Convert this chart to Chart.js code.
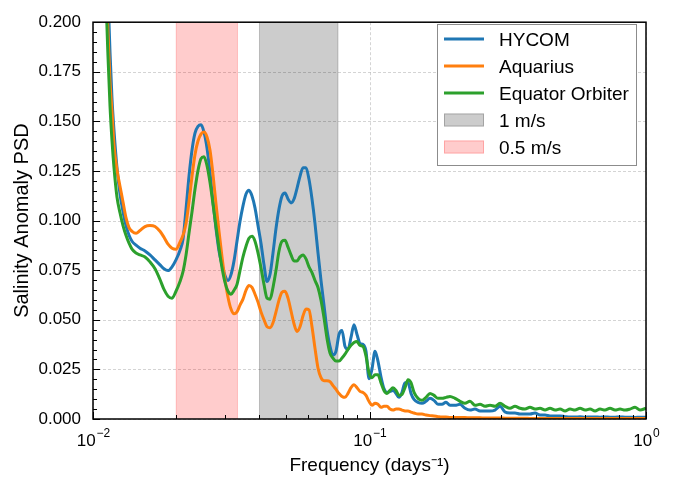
<!DOCTYPE html>
<html>
<head>
<meta charset="utf-8">
<script src="https://cdn.jsdelivr.net/npm/chart.js@4.4.1/dist/chart.umd.min.js"></script>
<style>
  body { margin: 0; background: #fff; }
  canvas { display: block; }
</style>
</head>
<body>
<canvas id="psd" width="676" height="480"></canvas>
<script>
// frequency axis (days^-1)
var freq = [
  0.01096, 0.01114, 0.01133, 0.01152, 0.01171, 0.01191, 0.01221, 0.01252, 0.01284, 0.01316,
  0.01350, 0.01384, 0.01431, 0.01479, 0.01542, 0.01607, 0.01676, 0.01747, 0.01806, 0.01868,
  0.01931, 0.01996, 0.02064, 0.02116, 0.02170, 0.02224, 0.02281, 0.02338, 0.02397, 0.02458,
  0.02520, 0.02584, 0.02649, 0.02716, 0.02785, 0.02856, 0.02928, 0.03002, 0.03078, 0.03156,
  0.03236, 0.03317, 0.03401, 0.03487, 0.03576, 0.03666, 0.03759, 0.03854, 0.03951, 0.04051,
  0.04154, 0.04259, 0.04367, 0.04477, 0.04590, 0.04707, 0.04826, 0.04948, 0.05073, 0.05201,
  0.05333, 0.05468, 0.05606, 0.05748, 0.05893, 0.06042, 0.06195, 0.06352, 0.06512, 0.06677,
  0.06846, 0.07019, 0.07197, 0.07379, 0.07566, 0.07757, 0.07953, 0.08154, 0.08361, 0.08572,
  0.08789, 0.09011, 0.09239, 0.09473, 0.09713, 0.09958, 0.1021, 0.1047, 0.1073, 0.1100,
  0.1128, 0.1157, 0.1186, 0.1216, 0.1247, 0.1278, 0.1311, 0.1344, 0.1378, 0.1413,
  0.1449, 0.1498, 0.1548, 0.1601, 0.1655, 0.1711, 0.1769, 0.1829, 0.1891, 0.1955,
  0.2038, 0.2125, 0.2215, 0.2309, 0.2407, 0.2510, 0.2617, 0.2728, 0.2844, 0.2965,
  0.3091, 0.3222, 0.3359, 0.3502, 0.3651, 0.3806, 0.3968, 0.4137, 0.4313, 0.4496,
  0.4688, 0.4887, 0.5095, 0.5311, 0.5537, 0.5773, 0.6018, 0.6274, 0.6541, 0.6819,
  0.7109, 0.7411, 0.7727, 0.8055, 0.8398, 0.8755, 0.9127, 0.9515, 1.0
];

var hycom = [
  0.2817, 0.2446, 0.2149, 0.1851, 0.1619, 0.1455, 0.1267, 0.1134, 0.1045, 0.0975,
  0.0926, 0.0896, 0.0876, 0.0861, 0.0847, 0.0827, 0.0802, 0.0777, 0.0757, 0.0748,
  0.0767, 0.0802, 0.0851, 0.0906, 0.1059, 0.1223, 0.1356, 0.1441, 0.1475, 0.1483,
  0.1446, 0.1366, 0.1243, 0.1094, 0.0960, 0.0847, 0.0777, 0.0723, 0.0698, 0.0728,
  0.0797, 0.0896, 0.0995, 0.1074, 0.1134, 0.1153, 0.1124, 0.1064, 0.0975, 0.0886,
  0.0777, 0.0693, 0.0728, 0.0837, 0.0960, 0.1059, 0.1124, 0.1139, 0.1109, 0.1089,
  0.1109, 0.1163, 0.1223, 0.1267, 0.1267, 0.1208, 0.1109, 0.0985, 0.0837, 0.0698,
  0.0574, 0.0450, 0.0366, 0.0322, 0.0342, 0.0426, 0.0446, 0.0366, 0.0351, 0.0411,
  0.0475, 0.0426, 0.0381, 0.0376, 0.0342, 0.0203, 0.0252, 0.0342, 0.0292, 0.0213,
  0.0153, 0.0134, 0.0139, 0.0144, 0.0129, 0.0109, 0.0134, 0.0183, 0.0183, 0.0129,
  0.0099, 0.0084, 0.0079, 0.0089, 0.0104, 0.0094, 0.0074, 0.0074, 0.0084, 0.0069,
  0.0069, 0.0074, 0.0054, 0.0045, 0.0050, 0.0040, 0.0040, 0.0040, 0.0045, 0.0064,
  0.0035, 0.0030, 0.0030, 0.0025, 0.0025, 0.0025, 0.0030, 0.0020, 0.0020, 0.0015,
  0.0015, 0.0015, 0.0012, 0.0010, 0.0010, 0.0011, 0.0009, 0.0010, 0.0010, 0.0009,
  0.0010, 0.0009, 0.0009, 0.0010, 0.0009, 0.0009, 0.0008, 0.0009, 0.0009
];

var aquarius = [
  0.2668, 0.2272, 0.1950, 0.1703, 0.1554, 0.1381, 0.1257, 0.1173, 0.1094, 0.1015,
  0.0965, 0.0946, 0.0936, 0.0950, 0.0970, 0.0975, 0.0970, 0.0946, 0.0916, 0.0881,
  0.0861, 0.0856, 0.0891, 0.0926, 0.0985, 0.1094, 0.1223, 0.1332, 0.1401, 0.1436,
  0.1446, 0.1421, 0.1356, 0.1233, 0.1084, 0.0946, 0.0817, 0.0703, 0.0614, 0.0554,
  0.0530, 0.0540, 0.0574, 0.0604, 0.0649, 0.0673, 0.0663, 0.0629, 0.0589, 0.0540,
  0.0500, 0.0465, 0.0460, 0.0485, 0.0540, 0.0599, 0.0639, 0.0644, 0.0609, 0.0545,
  0.0480, 0.0441, 0.0465, 0.0520, 0.0554, 0.0550, 0.0465, 0.0356, 0.0257, 0.0208,
  0.0193, 0.0193, 0.0188, 0.0168, 0.0149, 0.0129, 0.0114, 0.0109, 0.0129, 0.0158,
  0.0173, 0.0158, 0.0139, 0.0134, 0.0119, 0.0089, 0.0069, 0.0079, 0.0074, 0.0059,
  0.0064, 0.0064, 0.0050, 0.0045, 0.0050, 0.0050, 0.0045, 0.0040, 0.0040, 0.0035,
  0.0030, 0.0025, 0.0025, 0.0020, 0.0017, 0.0015, 0.0012, 0.0010, 0.0010, 0.0008,
  0.0008, 0.0007, 0.0007, 0.0006, 0.0006, 0.0006, 0.0005, 0.0005, 0.0005, 0.0005,
  0.0004, 0.0004, 0.0004, 0.0004, 0.0004, 0.0003, 0.0003, 0.0003, 0.0003, 0.0003,
  0.0003, 0.0003, 0.0003, 0.0002, 0.0002, 0.0002, 0.0002, 0.0002, 0.0002, 0.0002,
  0.0002, 0.0002, 0.0002, 0.0002, 0.0002, 0.0002, 0.0002, 0.0002, 0.0002
];

var equator = [
  0.2520, 0.2124, 0.1827, 0.1579, 0.1406, 0.1267, 0.1119, 0.1040, 0.0975, 0.0926,
  0.0886, 0.0856, 0.0837, 0.0827, 0.0817, 0.0792, 0.0757, 0.0703, 0.0653, 0.0619,
  0.0609, 0.0644, 0.0693, 0.0743, 0.0827, 0.0936, 0.1045, 0.1158, 0.1252, 0.1312,
  0.1322, 0.1277, 0.1193, 0.1084, 0.0970, 0.0861, 0.0762, 0.0688, 0.0644, 0.0629,
  0.0649, 0.0678, 0.0748, 0.0817, 0.0871, 0.0911, 0.0921, 0.0896, 0.0837, 0.0762,
  0.0678, 0.0609, 0.0604, 0.0663, 0.0748, 0.0847, 0.0896, 0.0901, 0.0866, 0.0827,
  0.0797, 0.0797, 0.0817, 0.0827, 0.0807, 0.0767, 0.0738, 0.0698, 0.0663, 0.0599,
  0.0510, 0.0406, 0.0332, 0.0307, 0.0292, 0.0292, 0.0307, 0.0327, 0.0351, 0.0371,
  0.0386, 0.0391, 0.0371, 0.0366, 0.0317, 0.0233, 0.0208, 0.0223, 0.0223, 0.0183,
  0.0144, 0.0129, 0.0144, 0.0158, 0.0144, 0.0119, 0.0124, 0.0158, 0.0198, 0.0183,
  0.0134, 0.0104, 0.0094, 0.0109, 0.0129, 0.0119, 0.0104, 0.0104, 0.0109, 0.0114,
  0.0104, 0.0089, 0.0079, 0.0089, 0.0069, 0.0074, 0.0064, 0.0069, 0.0064, 0.0079,
  0.0064, 0.0054, 0.0064, 0.0054, 0.0050, 0.0059, 0.0050, 0.0054, 0.0045, 0.0054,
  0.0045, 0.0050, 0.0040, 0.0050, 0.0045, 0.0054, 0.0045, 0.0050, 0.0040, 0.0050,
  0.0045, 0.0054, 0.0045, 0.0050, 0.0045, 0.0050, 0.0059, 0.0045, 0.0054
];

// shaded speed bands [low, high] in days^-1
var band1ms = [0.04, 0.0769];
var band05ms = [0.02, 0.0333];
var bandLabels = ['1 m/s', '0.5 m/s'];

var xTickValues = [0.01, 0.1, 1];
var xTickExps = ['\u22122', '\u22121', '0'];

var FONT = '"Liberation Sans", Arial, Helvetica, sans-serif';

function series(vals) {
  return freq.map(function(f, i) { return {x: f, y: vals[i]}; });
}

function lineSet(label, vals, color, order) {
  return {
    label: label,
    data: series(vals),
    borderColor: color,
    backgroundColor: color,
    borderWidth: 3,
    pointRadius: 0,
    fill: false,
    cubicInterpolationMode: 'monotone',
    clip: 0,
    order: order
  };
}

var bands = [
  {range: band1ms, label: bandLabels[0], color: 'rgba(0,0,0,0.2)'},
  {range: band05ms, label: bandLabels[1], color: 'rgba(255,0,0,0.2)'}
];

// spans, dashed grid, spines, inward ticks, x labels with exponents
var axesDecor = {
  id: 'axesDecor',
  beforeDatasetsDraw: function(chart) {
    var c = chart.ctx, a = chart.chartArea;
    var xs = chart.scales.x, ys = chart.scales.y;
    c.save();
    // grid
    c.strokeStyle = 'rgba(176,176,176,0.55)';
    c.lineWidth = 1;
    c.setLineDash([3, 2]);
    for (var v = 0; v <= 0.2001; v += 0.025) {
      var py = Math.round(ys.getPixelForValue(v)) + 0.5;
      c.beginPath(); c.moveTo(a.left, py); c.lineTo(a.right, py); c.stroke();
    }
    xTickValues.forEach(function(t) {
      var px = Math.round(xs.getPixelForValue(t)) + 0.5;
      c.beginPath(); c.moveTo(px, a.top); c.lineTo(px, a.bottom); c.stroke();
    });
    c.setLineDash([]);
    // spans
    bands.forEach(function(b) {
      var x0 = xs.getPixelForValue(b.range[0]);
      var x1 = xs.getPixelForValue(b.range[1]);
      c.fillStyle = b.color;
      c.fillRect(x0, a.top, x1 - x0, a.bottom - a.top);
      c.strokeStyle = b.color;
      c.lineWidth = 1;
      c.beginPath();
      c.moveTo(x0, a.top); c.lineTo(x0, a.bottom);
      c.moveTo(x1, a.top); c.lineTo(x1, a.bottom);
      c.stroke();
    });
    c.restore();
  },
  afterDatasetsDraw: function(chart) {
    var c = chart.ctx, a = chart.chartArea;
    var xs = chart.scales.x, ys = chart.scales.y;
    c.save();
    c.strokeStyle = '#000';
    c.lineWidth = 1;
    // y ticks, major every 0.025, minor every 0.005
    for (var i = 0; i <= 40; i++) {
      var py = Math.round(ys.getPixelForValue(i * 0.005)) + 0.5;
      var len = (i % 5 === 0) ? 7 : 4;
      c.beginPath(); c.moveTo(a.left, py); c.lineTo(a.left + len, py); c.stroke();
    }
    // x ticks on the log axis
    for (var d = -2; d <= 0; d++) {
      for (var m = 1; m <= 9; m++) {
        var val = m * Math.pow(10, d);
        if (val > 1.0001) break;
        var px = Math.round(xs.getPixelForValue(val)) + 0.5;
        var l = (m === 1) ? 7 : 4;
        c.beginPath(); c.moveTo(px, a.bottom); c.lineTo(px, a.bottom - l); c.stroke();
      }
    }
    // spines
    c.lineWidth = 1.5;
    c.strokeRect(a.left, a.top, a.right - a.left, a.bottom - a.top);
    // x tick labels: 10 with superscript exponent
    c.fillStyle = '#000';
    c.textBaseline = 'alphabetic';
    c.textAlign = 'left';
    xTickValues.forEach(function(t, k) {
      var px = xs.getPixelForValue(t);
      c.font = '17px ' + FONT;
      var wBase = c.measureText('10').width;
      c.font = '12px ' + FONT;
      var wExp = c.measureText(xTickExps[k]).width;
      var x0 = px - (wBase + wExp) / 2;
      c.font = '17px ' + FONT;
      c.fillText('10', x0, 446);
      c.font = '12px ' + FONT;
      c.fillText(xTickExps[k], x0 + wBase + 1, 437);
    });
    c.restore();
  }
};

// legend box inside the axes, upper right
var legendBox = {
  id: 'legendBox',
  afterDraw: function(chart) {
    var c = chart.ctx;
    var bx = 437.5, by = 24.5, bw = 199, bh = 141;
    c.save();
    c.fillStyle = '#fff';
    c.fillRect(bx, by, bw, bh);
    c.strokeStyle = '#8c8c8c';
    c.lineWidth = 1;
    c.strokeRect(bx, by, bw, bh);
    c.font = '19px ' + FONT;
    c.textBaseline = 'alphabetic';
    c.textAlign = 'left';
    var rowY = [39, 66, 93, 120, 147];
    var lines = chart.data.datasets;
    lines.forEach(function(ds, i) {
      c.strokeStyle = ds.borderColor;
      c.lineWidth = 3;
      c.beginPath(); c.moveTo(444, rowY[i]); c.lineTo(484, rowY[i]); c.stroke();
      c.fillStyle = '#000';
      c.fillText(ds.label, 499, rowY[i] + 7);
    });
    bands.forEach(function(b, j) {
      var y = rowY[lines.length + j];
      c.fillStyle = b.color;
      c.fillRect(444, y - 6.5, 40, 13);
      c.strokeStyle = b.color;
      c.lineWidth = 1;
      c.strokeRect(444.5, y - 6, 39, 12);
      c.fillStyle = '#000';
      c.fillText(b.label, 499, y + 7);
    });
    c.restore();
  }
};

var ctx = document.getElementById('psd');

var chart = new Chart(ctx, {
  type: 'line',
  data: {
    datasets: [
      lineSet('HYCOM', hycom, '#1f77b4', 2),
      lineSet('Aquarius', aquarius, '#ff7f0e', 1),
      lineSet('Equator Orbiter', equator, '#2ca02c', 0)
    ]
  },
  options: {
    responsive: false,
    animation: false,
    layout: {padding: {left: 0, top: 15, right: 30, bottom: 0}},
    scales: {
      x: {
        type: 'logarithmic',
        min: 0.01,
        max: 1,
        ticks: {display: false},
        grid: {display: false, drawTicks: false},
        border: {display: false},
        title: {
          display: true,
          text: 'Frequency (days\u207B\u00B9)',
          color: '#000',
          font: {family: FONT, size: 19},
          padding: {top: 0, bottom: 3}
        },
        afterFit: function(s) { s.height = 61; }
      },
      y: {
        type: 'linear',
        min: 0,
        max: 0.2,
        ticks: {
          stepSize: 0.025,
          padding: 12,
          color: '#000',
          font: {family: FONT, size: 17},
          callback: function(v) { return v.toFixed(3); }
        },
        grid: {display: false, drawTicks: false},
        border: {display: false},
        title: {
          display: true,
          text: 'Salinity Anomaly PSD',
          color: '#000',
          font: {family: FONT, size: 20},
          padding: {top: 10, bottom: 0}
        },
        afterFit: function(s) { s.width = 93; }
      }
    },
    plugins: {
      legend: {display: false},
      tooltip: {enabled: false}
    }
  },
  plugins: [axesDecor, legendBox]
});
</script>
</body>
</html>
